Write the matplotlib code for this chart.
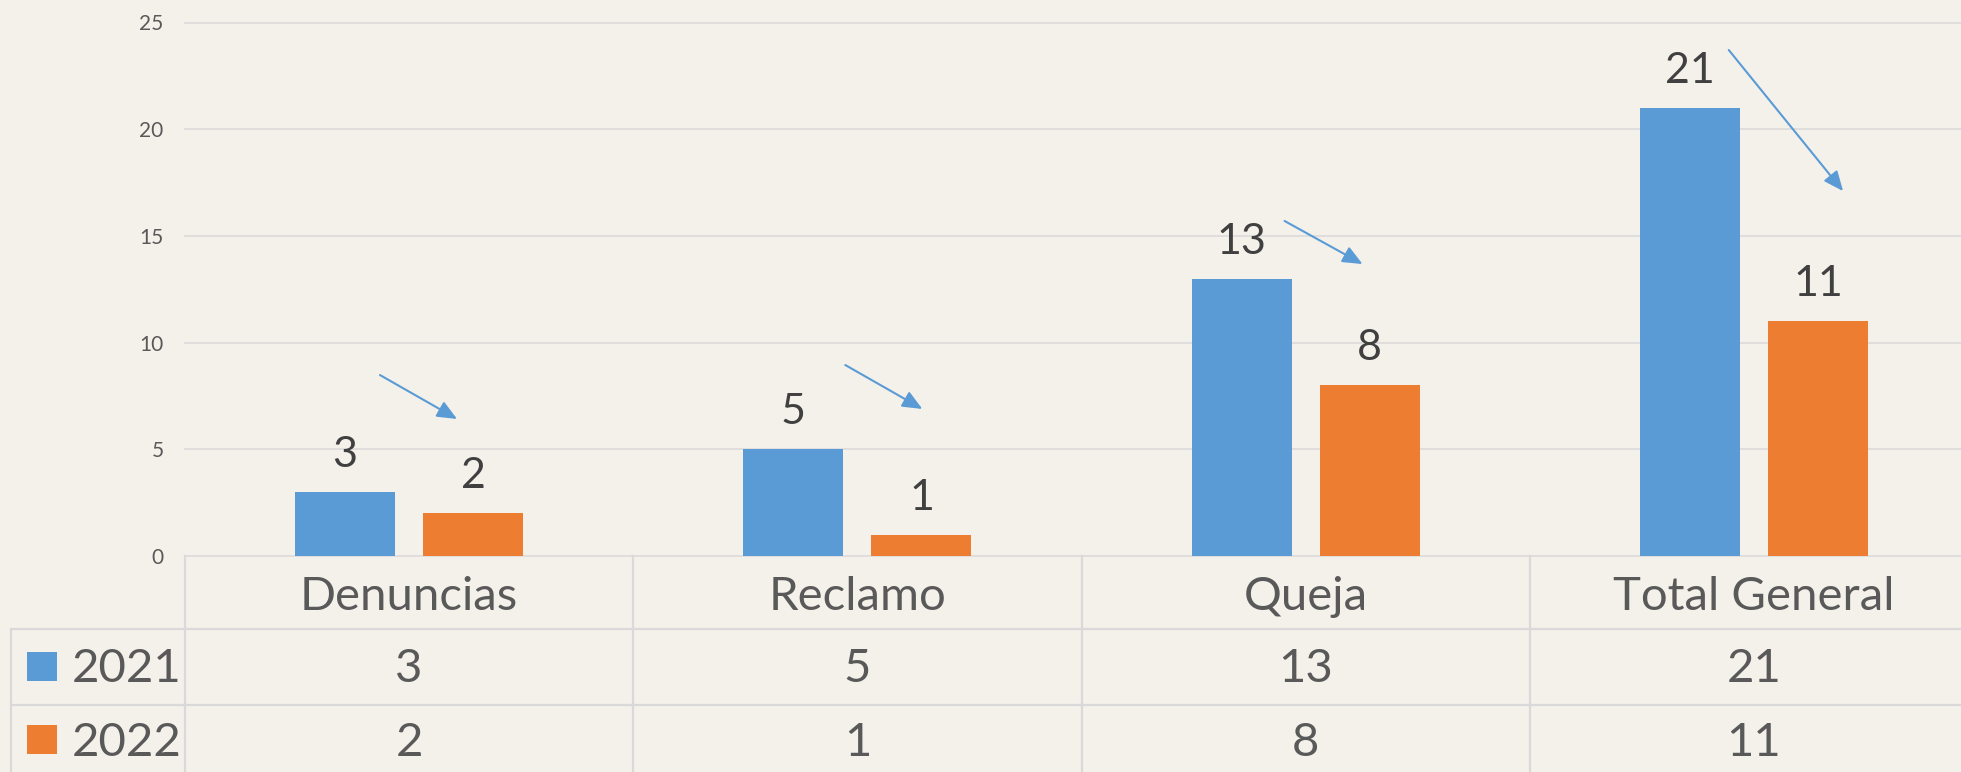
import matplotlib
matplotlib.use("Agg")
import matplotlib.pyplot as plt
import matplotlib.transforms as mtransforms
from matplotlib.patches import Rectangle
from matplotlib.lines import Line2D

# ---- data ----
categories = ["Denuncias", "Reclamo", "Queja", "Total General"]
series_names = ["2021", "2022"]
values_2021 = [3, 5, 13, 21]
values_2022 = [2, 1, 8, 11]
y_ticks = [0, 5, 10, 15, 20, 25]

# trend arrows (start -> tip) in data coordinates
arrow_starts = [(-0.065, 8.48), (0.973, 8.95), (1.953, 15.70), (2.944, 23.71)]
arrow_tips = [(0.107, 6.42), (1.145, 6.89), (2.127, 13.68), (3.199, 17.10)]

# ---- style ----
BLUE = "#5B9BD5"
ORANGE = "#ED7D31"
BG = "#F4F1EB"
GRID = "#D9D9D9"
LABEL = "#404040"
TABLE_TXT = "#595959"
FONT = ["Lato", "DejaVu Sans"]

W, H = 1961, 772
fig = plt.figure(figsize=(W / 100, H / 100), dpi=100, facecolor=BG)


def fx(px):
    return px / W


def fy(px):
    return 1 - px / H


# plot area: x from 185 px to the right (last column runs past the edge)
ax = fig.add_axes([fx(185), fy(556), fx(1978 - 185), (556 - 22.5) / H])
ax.set_facecolor(BG)
ax.set_xlim(-0.5, len(categories) - 0.5)
ax.set_ylim(0, 25)
for s in ax.spines.values():
    s.set_visible(False)
ax.set_xticks([])
ax.set_yticks(y_ticks)
ax.tick_params(axis="y", length=0, pad=15.5, labelsize=15, labelcolor=TABLE_TXT)
for t in ax.get_yticklabels():
    t.set_family(FONT)
for v in y_ticks:
    ax.axhline(v, color=GRID, lw=1.1, zorder=0, clip_on=False)

# bars
bw = 0.223
off = 0.143
xs = list(range(len(categories)))
ax.bar([x - off for x in xs], values_2021, width=bw, color=BLUE, zorder=2)
ax.bar([x + off for x in xs], values_2022, width=bw, color=ORANGE, zorder=2)

# value labels above bars
for x, v in zip(xs, values_2021):
    ax.annotate(str(v), (x - off, v), xytext=(0, 18), textcoords="offset points",
                ha="center", va="baseline", fontsize=31, color=LABEL, family=FONT)
for x, v in zip(xs, values_2022):
    ax.annotate(str(v), (x + off, v), xytext=(0, 18), textcoords="offset points",
                ha="center", va="baseline", fontsize=31, color=LABEL, family=FONT)

# trend arrows
for (x0, y0), (x1, y1) in zip(arrow_starts, arrow_tips):
    ax.annotate("", xy=(x1, y1), xytext=(x0, y0),
                arrowprops=dict(arrowstyle="-|>,head_length=0.6,head_width=0.26",
                                mutation_scale=20, lw=1.5, color=BLUE,
                                shrinkA=0, shrinkB=0), zorder=3)

# ---- data table below the plot ----
tr = mtransforms.blended_transform_factory(ax.transData, fig.transFigure)
line_kw = dict(color=GRID, lw=1.6, zorder=1)

# column dividers
for i in range(len(categories) + 1):
    fig.add_artist(Line2D([i - 0.5, i - 0.5], [fy(556), fy(790)], transform=tr, **line_kw))
# left border of the series rows
fig.add_artist(Line2D([fx(11), fx(11)], [fy(629), fy(790)], transform=fig.transFigure, **line_kw))
# row separators
for ypx in (629, 704.5, 781):
    fig.add_artist(Line2D([fx(11), 1.0], [fy(ypx), fy(ypx)], transform=fig.transFigure, **line_kw))

# header row
for i, c in enumerate(categories):
    fig.text(i, fy(610), c, transform=tr, ha="center", va="baseline",
             fontsize=34, color=TABLE_TXT, family=FONT)

# series rows
row_baselines = [682.5, 755.5]
row_colors = [BLUE, ORANGE]
for name, vals, base, col in zip(series_names, [values_2021, values_2022], row_baselines, row_colors):
    fig.add_artist(Rectangle((fx(27), fy(base - 2)), fx(30), 29 / H,
                             transform=fig.transFigure, color=col, lw=0))
    fig.text(fx(72), fy(base), name, ha="left", va="baseline",
             fontsize=34, color=TABLE_TXT, family=FONT)
    for i, v in enumerate(vals):
        fig.text(i, fy(base), str(v), transform=tr, ha="center", va="baseline",
                 fontsize=34, color=TABLE_TXT, family=FONT)

fig.savefig("out.png", dpi=100, facecolor=BG)
